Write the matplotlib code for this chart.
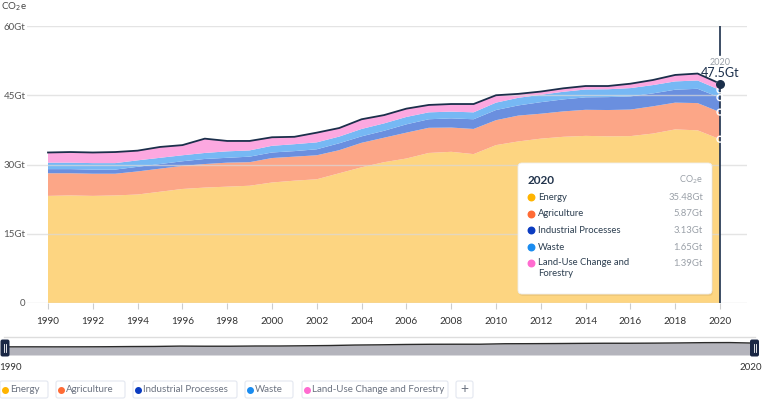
import matplotlib
matplotlib.use("Agg")
import matplotlib.pyplot as plt
from matplotlib.patches import FancyBboxPatch

plt.rcParams['font.family'] = ['Lato', 'DejaVu Sans']

years = list(range(1990, 2021))

# GtCO2e per sector
energy = [23.2, 23.3, 23.2, 23.3, 23.5, 24.1, 24.7, 25.0, 25.2, 25.4,
          26.1, 26.5, 26.8, 28.1, 29.4, 30.5, 31.3, 32.5, 32.75, 32.25,
          34.2, 35.0, 35.6, 36.0, 36.2, 36.1, 36.15, 36.7, 37.6, 37.4, 35.48]
agriculture = [4.9, 4.8, 4.8, 4.7, 5.0, 5.0, 5.0, 5.1, 5.2, 5.1,
               5.3, 5.2, 5.2, 5.0, 5.3, 5.3, 5.6, 5.45, 5.25, 5.45,
               5.4, 5.6, 5.4, 5.5, 5.65, 5.7, 5.75, 5.9, 5.8, 5.9, 5.87]
industrial = [0.9, 0.9, 0.9, 0.9, 1.0, 1.0, 1.0, 1.1, 1.05, 1.2,
              1.2, 1.2, 1.3, 1.5, 1.4, 1.5, 1.8, 1.85, 2.0, 2.1,
              2.2, 2.2, 2.5, 2.6, 2.7, 2.8, 2.85, 2.8, 2.8, 3.1, 3.13]
waste = [1.4, 1.4, 1.4, 1.4, 1.4, 1.35, 1.3, 1.3, 1.4, 1.35,
         1.45, 1.5, 1.5, 1.45, 1.6, 1.6, 1.6, 1.5, 1.45, 1.5,
         1.6, 1.65, 1.6, 1.65, 1.7, 1.7, 1.8, 1.8, 1.8, 1.8, 1.65]
land_use = [2.2, 2.3, 2.3, 2.4, 2.1, 2.35, 2.2, 3.1, 2.25, 2.05,
            1.85, 1.6, 2.1, 1.85, 2.1, 1.8, 1.8, 1.6, 1.65, 1.8,
            1.6, 0.85, 0.7, 0.75, 0.75, 0.7, 0.95, 1.1, 1.4, 1.5, 1.39]

sectors = ['Energy', 'Agriculture', 'Industrial Processes', 'Waste',
           'Land-Use Change and Forestry']
tooltip_values = ['35.48Gt', '5.87Gt', '3.13Gt', '1.65Gt', '1.39Gt']
ytick_vals = [0, 15, 30, 45, 60]
ytick_labels = ['0', '15Gt', '30Gt', '45Gt', '60Gt']

fill_colors = ['#FDD581', '#FCA687', '#6A8FDF', '#76B8F4', '#FCA8E0']
dot_colors = ['#FFB400', '#FF6B35', '#0B3CC1', '#1A8CF0', '#FF6BD0']
navy = '#1B2F4B'

W, H = 773, 416
fig = plt.figure(figsize=(W / 100, H / 100), dpi=100)

# main chart
ax = fig.add_axes([27 / W, 1 - 303 / H, 720 / W, 277 / H])
ax.stackplot(years, energy, agriculture, industrial, waste, land_use,
             colors=fill_colors, linewidth=0, zorder=1)
totals = [sum(v) for v in zip(energy, agriculture, industrial, waste, land_use)]
ax.plot(years, totals, color=navy, lw=1.3, zorder=3)
ax.set_xlim(1990 - 21 / 22.4, 2020 + 27 / 22.4)
ax.set_ylim(0, 60)
for s in ax.spines.values():
    s.set_visible(False)
for v in ytick_vals:
    ax.axhline(v, color='#d9d9d9', lw=1, alpha=0.7, zorder=2)
ax.set_yticks(ytick_vals)
ax.set_yticklabels(ytick_labels, fontsize=7, color='#555555')
ax.tick_params(axis='y', length=0, pad=1)
ax.set_xticks(range(1990, 2021, 2))
ax.tick_params(axis='x', length=4, color='#cccccc', labelsize=7.2,
               labelcolor='#333333', pad=6)

# hover cursor at 2020: line stops around the value label
ax.plot([2020, 2020], [0, totals[-1]], color=navy, lw=1.2, zorder=4)
ax.plot([2020, 2020], [53.8, 60], color=navy, lw=1.2, zorder=4)
cum = 0
for vals in (energy, agriculture, industrial, waste, land_use):
    cum += vals[-1]
    ax.scatter([2020], [cum], s=18, facecolor='none', edgecolor='white',
               lw=1.0, zorder=5)
ax.scatter([2020], [totals[-1]], s=30, color=navy, zorder=6)
ax.text(2020, totals[-1] + 4.6, '2020', fontsize=6.5, color='#9aa0a8',
        ha='center', va='center', zorder=6)
ax.text(2020, totals[-1] + 2.4, '47.5Gt', fontsize=9, color=navy,
        ha='center', va='center', zorder=6)

# range slider mini chart
mini = fig.add_axes([5 / W, 1 - 355 / H, 750 / W, 15 / H])
mini.fill_between(years, totals, color='#b4b4bc', lw=0)
mini.plot(years, totals, color='#2a2a2a', lw=1)
mini.set_xlim(1990, 2020)
mini.set_ylim(0, 60)
mini.axis('off')

# overlay in pixel coordinates
ov = fig.add_axes([0, 0, 1, 1])
ov.set_xlim(0, W)
ov.set_ylim(H, 0)
ov.axis('off')
ov.patch.set_alpha(0)

ov.text(1, 7, 'CO$_2$e', fontsize=7, color='#444444', ha='left', va='center')

# tooltip
ov.add_patch(FancyBboxPatch((519, 165), 194, 131,
                            boxstyle='round,pad=0,rounding_size=4',
                            fc='#000000', ec='none', alpha=0.06))
ov.add_patch(FancyBboxPatch((518, 163), 194, 131,
                            boxstyle='round,pad=0,rounding_size=4',
                            fc='white', ec='#eeeeee', lw=0.6))
ov.text(528, 180, '2020', fontsize=8.5, fontweight='bold', color='#22344c',
        ha='left', va='center')
ov.text(703, 180, 'CO$_2$e', fontsize=6.5, color='#9aa0a8', ha='right',
        va='center')
row_y = [197.5, 214, 230.5, 247, 263.5]
for i, name in enumerate(sectors):
    y = row_y[i]
    ov.scatter([531], [y - 0.5], s=22, color=dot_colors[i], zorder=5)
    label = name if i < 4 else 'Land-Use Change and\nForestry'
    ov.text(538, y - 5.5 if i == 4 else y, label, fontsize=6.8,
            color='#2c3e50', ha='left', va='top' if i == 4 else 'center',
            linespacing=1.35)
    ov.text(703, y, tooltip_values[i], fontsize=6.8, color='#9aa0a8',
            ha='right', va='center')

# slider track and handles
ov.plot([4, 755], [337, 337], color='#dddddd', lw=1)
for hx in (5, 754.5):
    ov.add_patch(FancyBboxPatch((hx - 4.5, 339.5), 9, 17,
                                boxstyle='round,pad=0,rounding_size=2',
                                fc='#1a2744', ec='none', zorder=6))
    ov.plot([hx - 1, hx - 1], [344, 352], color='white', lw=0.6, zorder=7)
    ov.plot([hx + 1, hx + 1], [344, 352], color='white', lw=0.6, zorder=7)
ov.text(10, 368, '1990', fontsize=7, color='#333333', ha='center', va='center')
ov.text(751, 368, '2020', fontsize=7, color='#333333', ha='center', va='center')

# legend pills
pills = [(0, 48), (56, 69), (133, 104), (245, 48), (302, 146)]
for (px, pw), name, c in zip(pills, sectors, dot_colors):
    ov.add_patch(FancyBboxPatch((px, 381), pw, 17,
                                boxstyle='round,pad=0,rounding_size=2',
                                fc='white', ec='#e3e7f0', lw=0.8))
    ov.scatter([px + 5], [389.5], s=16, color=c, zorder=5)
    ov.text(px + 10, 389.5, name, fontsize=7, color='#6b7280', ha='left',
            va='center')
ov.add_patch(FancyBboxPatch((456, 381), 17, 17,
                            boxstyle='round,pad=0,rounding_size=2',
                            fc='white', ec='#e3e7f0', lw=0.8))
ov.text(464.5, 389.5, '+', fontsize=10, color='#6b7280', ha='center',
        va='center')

fig.savefig('out.png', dpi=100)
